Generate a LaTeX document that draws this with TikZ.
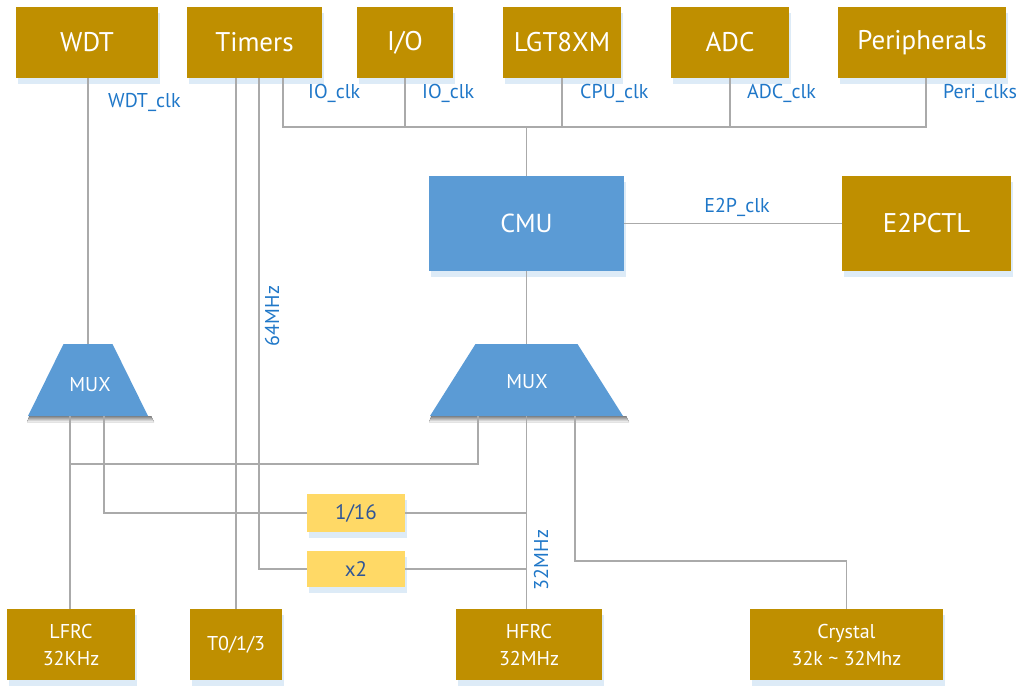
\documentclass[tikz,border=0pt]{standalone}
\usepackage{fontspec}
\setmainfont{PT Sans}
\usetikzlibrary{calc,shadows}
\definecolor{gold}{RGB}{191,143,0}
\definecolor{cmublue}{RGB}{91,155,213}
\definecolor{divyel}{RGB}{255,217,102}
\definecolor{lblblue}{RGB}{31,119,200}
\definecolor{wire}{RGB}{170,170,170}
\definecolor{shade}{RGB}{221,235,247}
\definecolor{divtxt}{RGB}{47,85,151}
\begin{document}
\begin{tikzpicture}[x=1pt,y=-1pt,
  base/.style={rectangle,inner sep=0pt,outer sep=0pt,
    general shadow={fill=shade,shadow xshift=1.5pt,shadow yshift=-6pt}},
  topbox/.style={base,fill=gold,text=white,minimum height=71pt,
    font=\fontsize{27}{30}\selectfont},
  botbox/.style={base,fill=gold,text=white,minimum height=71pt,align=center,
    font=\fontsize{20}{27}\selectfont},
  cmubox/.style={base,fill=cmublue,text=white,minimum width=195pt,minimum height=95pt,
    font=\fontsize{26}{30}\selectfont},
  divbox/.style={base,fill=divyel,text=divtxt,minimum width=98pt,
    font=\fontsize{21}{24}\selectfont},
  muxbox/.style={rectangle,inner sep=0pt,outer sep=0pt,minimum height=72pt,text=white,
    font=\fontsize{20}{22}\selectfont},
  clk/.style={text=lblblue,inner sep=0pt,font=\fontsize{20}{22}\selectfont},
  wire/.style={draw=wire,line width=1.6pt}]
\useasboundingbox (0,0) rectangle (1028,698);
% top row
\node[topbox,minimum width=142pt] (wdt) at (87,42.5) {WDT};
\node[topbox,minimum width=135pt] (timers) at (254.5,42.5) {Timers};
\node[topbox,minimum width=96pt] (io) at (405,42.5) {I/O};
\node[topbox,minimum width=118pt] (lgt) at (562,42.5) {LGT8XM};
\node[topbox,minimum width=118pt] (adc) at (730,42.5) {ADC};
\node[topbox,minimum width=168pt] (peri) at (922,42.5) {Peripherals};
% middle
\node[cmubox] (cmu) at (526.5,223.5) {CMU};
\node[topbox,minimum width=169pt,minimum height=95pt] (e2p) at (926.5,223.5) {E2PCTL};
% MUX trapezia
\node[muxbox,minimum width=120pt] (muxL) at (88,380) {};
\node[muxbox,minimum width=193pt] (muxR) at (526.5,380) {};
\fill[shade] ($(muxL.south west)+(1.5,0)$) -- ($(muxL.south east)+(3,0)$) -- ($(muxL.south east)+(6,6)$) -- ($(muxL.south west)+(-1,6)$) -- cycle;
\fill[shade] ($(muxR.south west)+(1.5,0)$) -- ($(muxR.south east)+(3,0)$) -- ($(muxR.south east)+(6,6)$) -- ($(muxR.south west)+(-1,6)$) -- cycle;
\fill[cmublue] (muxL.south west) -- (muxL.south east) -- ($(muxL.north east)+(-35.5,0)$) -- ($(muxL.north west)+(35.5,0)$) -- cycle;
\fill[cmublue] (muxR.south west) -- (muxR.south east) -- ($(muxR.north east)+(-45.5,0)$) -- ($(muxR.north west)+(45.5,0)$) -- cycle;
\node[muxbox] (muxLt) at (90,385) {MUX};
\node[muxbox] (muxRt) at (527,382) {MUX};
\node[divbox,minimum height=38pt] (div16) at (356,513) {1/16};
\node[divbox,minimum height=36pt] (x2) at (356,569) {x2};
% bottom row
\node[botbox,minimum width=128pt] (lfrc) at (71,644.5) {LFRC\\32KHz};
\node[botbox,minimum width=92pt] (t013) at (236,644.5) {T0/1/3};
\node[botbox,minimum width=146pt] (hfrc) at (529,644.5) {HFRC\\32MHz};
\node[botbox,minimum width=193pt] (crystal) at (846.5,644.5) {Crystal\\32k \textasciitilde{} 32Mhz};
% junction coordinates
\coordinate (busL) at (283,127);
\coordinate (busR) at (926,127);
\coordinate (t64) at (259,569);
\coordinate (m16) at (104,513);
\coordinate (hL) at (70,464);
\coordinate (hR) at (478,464);
\coordinate (cr) at (575,561);
% wires
\draw[wire] (muxL.north |- wdt.south) -- (muxL.north);
\draw[wire] (t013.north |- timers.south) -- (t013.north);
\draw[wire] (t64 |- timers.south) -- (t64) -- (x2.west);
\draw[wire] (busL |- timers.south) -- (busL) -- (busR) -- (busR |- peri.south);
\draw[wire] (io.south) -- (io.south |- busL);
\draw[wire] (lgt.south) -- (lgt.south |- busL);
\draw[wire] (adc.south) -- (adc.south |- busL);
\draw[wire] (cmu.north) -- (cmu.north |- busL);
\draw[wire] (cmu.east) -- (e2p.west);
\draw[wire] (cmu.south) -- (muxR.north);
\draw[wire] (hL |- muxL.south) -- (hL |- lfrc.north);
\draw[wire] (m16 |- muxL.south) -- (m16) -- (div16.west);
\draw[wire] (hL) -- (hR) -- (hR |- muxR.south);
\draw[wire] (muxR.south) -- (muxR.south |- hfrc.north);
\draw[wire] (div16.east) -- (div16.east -| muxR.south);
\draw[wire] (x2.east) -- (x2.east -| muxR.south);
\draw[wire] (cr |- muxR.south) -- (cr) -- (cr -| crystal.north) -- (crystal.north);
% labels
\node[clk,anchor=west] (lwdt) at (108,102) {WDT\_clk};
\node[clk,anchor=west] (lio1) at (308,93) {IO\_clk};
\node[clk,anchor=west] (lio2) at (422,93) {IO\_clk};
\node[clk,anchor=west] (lcpu) at (580,93) {CPU\_clk};
\node[clk,anchor=west] (ladc) at (747,93) {ADC\_clk};
\node[clk,anchor=west] (lperi) at (943,93) {Peri\_clks};
\node[clk] (le2p) at (737,207) {E2P\_clk};
\node[clk,rotate=90] (l64) at (272,316) {64MHz};
\node[clk,rotate=90] (l32) at (541,560) {32MHz};
\end{tikzpicture}
\end{document}
